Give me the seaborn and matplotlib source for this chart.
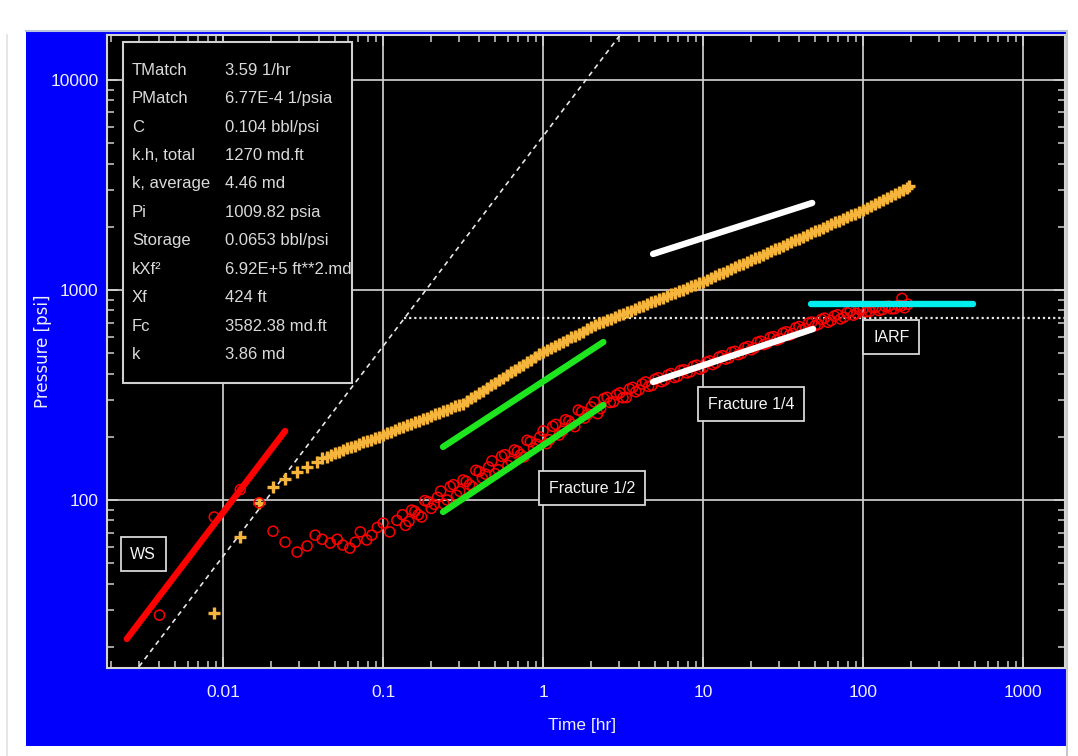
import matplotlib
matplotlib.use('Agg')
import matplotlib.pyplot as plt
import pandas as pd
import seaborn as sns
from matplotlib.patches import Rectangle
from matplotlib.lines import Line2D
from matplotlib.ticker import FixedLocator, FixedFormatter, LogLocator, NullFormatter

# ---- data ----
# pressure (orange crosses)
orange_t = [0.0088, 0.0128, 0.0168, 0.0205, 0.0244, 0.029, 0.0335, 0.0387, 0.0416,
            0.0447, 0.0501, 0.0562, 0.0631, 0.0708, 0.0794, 0.0891, 0.1,
            0.112, 0.126, 0.141, 0.158, 0.178, 0.2, 0.224, 0.251, 0.282, 0.316,
            0.355, 0.398, 0.447, 0.501, 0.562, 0.631, 0.708, 0.794, 0.891, 1.0,
            1.12, 1.26, 1.41, 1.58, 1.78, 2.0, 2.24, 2.51, 2.82, 3.16,
            3.55, 3.98, 4.47, 5.01, 5.62, 6.31, 7.08, 7.94, 8.91, 10.0,
            11.2, 12.6, 14.1, 15.8, 17.8, 20.0, 22.4, 25.1, 28.2, 31.6,
            35.5, 39.8, 44.7, 50.1, 56.2, 63.1, 70.8, 79.4, 89.1, 100,
            112, 126, 141, 158, 178, 195,
            0.0473, 0.0531, 0.0596, 0.0668, 0.075, 0.0841, 0.0944, 0.106, 0.119, 0.133,
            0.15, 0.168, 0.188, 0.211, 0.237, 0.266, 0.299, 0.335, 0.376, 0.422,
            0.473, 0.531, 0.596, 0.668, 0.75, 0.841, 0.944, 1.06, 1.19, 1.33,
            1.5, 1.68, 1.88, 2.11, 2.37, 2.66, 2.99, 3.35, 3.76, 4.22,
            4.73, 5.31, 5.96, 6.68, 7.5, 8.41, 9.44, 10.6, 11.9, 13.3,
            15.0, 16.8, 18.8, 21.1, 23.7, 26.6, 29.9, 33.5, 37.6, 42.2,
            47.3, 53.1, 59.6, 66.8, 75.0, 84.1, 94.4, 106, 119, 133,
            150, 168, 188]
orange_p = [29, 67, 97, 115, 126, 136, 144, 152, 158,
            161, 167, 173, 178, 185, 191, 197, 204,
            211, 219, 227, 234, 243, 251, 260, 269, 279, 288,
            305, 323, 342, 361, 382, 405, 428, 453, 480, 508,
            531, 556, 581, 607, 634, 664, 693, 718, 743, 771,
            798, 826, 857, 887, 918, 953, 986, 1021, 1059, 1096,
            1140, 1186, 1233, 1282, 1334, 1387, 1442, 1500, 1560, 1624,
            1689, 1756, 1826, 1901, 1977, 2056, 2138, 2223, 2312, 2404,
            2512, 2627, 2748, 2871, 3002, 3112,
            164, 170, 176, 181, 188, 194, 200, 208, 215, 223,
            230, 239, 247, 256, 264, 274, 283, 296, 314, 332,
            351, 371, 393, 416, 440, 466, 494, 519, 543, 568,
            594, 620, 649, 678, 705, 730, 757, 784, 812, 841,
            872, 902, 935, 969, 1003, 1040, 1077, 1118, 1163, 1209,
            1257, 1308, 1360, 1414, 1471, 1530, 1592, 1656, 1722, 1791,
            1863, 1939, 2016, 2097, 2180, 2267, 2357, 2457, 2569, 2687,
            2809, 2936, 3057]

# derivative (red circles)
red_t = [0.004, 0.0088, 0.0128, 0.0168, 0.0205, 0.0244, 0.029, 0.0335, 0.0376, 0.0416,
         0.0467, 0.0517, 0.056, 0.062, 0.067, 0.072, 0.079, 0.085, 0.092, 0.1, 0.11, 0.122,
         0.132, 0.145, 0.158, 0.174, 0.191, 0.209, 0.229, 0.251, 0.275, 0.302,
         0.331, 0.363, 0.398, 0.437, 0.479, 0.525, 0.575, 0.631, 0.692, 0.759,
         0.832, 0.912, 1.0, 1.10, 1.20, 1.32, 1.45, 1.58, 1.74, 1.91,
         2.09, 2.29, 2.51, 2.75, 3.02, 3.31, 3.63, 3.98, 4.37, 4.79,
         5.25, 5.75, 6.31, 6.92, 7.59, 8.32, 9.12, 10.0, 11.0, 12.0,
         13.2, 14.5, 15.8, 17.4, 19.1, 20.9, 22.9, 25.1, 27.5, 30.2,
         33.1, 36.3, 39.8, 43.7, 47.9, 52.5, 57.5, 63.1, 69.2, 75.9,
         83.2, 91.2, 100, 110, 120, 132, 145, 158, 174, 191, 175,
         0.138, 0.151, 0.166, 0.182, 0.2, 0.219, 0.240, 0.263, 0.288, 0.316,
         0.347, 0.380, 0.417, 0.457, 0.501, 0.550, 0.603, 0.661, 0.724, 0.794,
         0.871, 0.955, 1.05, 1.15, 1.26, 1.38, 1.51, 1.66, 1.82, 2.0,
         2.19, 2.40, 2.63, 2.88, 3.16, 3.47, 3.80, 4.17, 4.57, 5.01,
         5.50, 6.03, 6.61, 7.24, 7.94, 8.71, 9.55, 10.5, 11.5, 12.6,
         13.8, 15.1, 16.6, 18.2, 20.0, 21.9, 24.0, 26.3, 28.8, 31.6,
         34.7, 38.0, 41.7, 45.7, 50.1, 55.0, 60.3, 66.1, 72.4, 79.4,
         87.1, 95.5, 105, 115, 126, 138, 151, 166, 182]
red_p = [28.3, 83, 112, 97, 71, 63, 56.5, 60.4, 68, 65,
         62.4, 65, 61, 59, 63, 70.5, 64.5, 68, 74, 77.6, 70.5, 80,
         85.1, 79.1, 88.3, 83.0, 98.0, 95.3, 110.2, 100, 118.3, 109.9,
         122.7, 115.3, 136.5, 132.7, 153.5, 139.3, 164.4, 152.8, 170.6, 160.3,
         189.7, 184.5, 213.3, 193.6, 229.1, 212.8, 237.7, 223.4, 263.6, 256.4,
         293.1, 272.3, 308.3, 293.1, 323.6, 307.6, 343.6, 334.2, 364.8, 350.8,
         381.9, 371.5, 399.9, 387.3, 416.9, 407.4, 438.5, 426.6, 459.2, 449.8,
         486.4, 474.2, 510.5, 498.9, 538.3, 528.4, 570.2, 557.2, 599.8, 584.8,
         632.4, 619.4, 669.9, 654.6, 703.1, 685.5, 734.5, 714.5, 762.1, 741.3,
         790.7, 772.7, 812.8, 790.7, 826.0, 805.4, 837.5, 814.7, 841.4, 855.1, 912,
         75.7, 89.5, 85.1, 99.3, 91.2, 103.0, 95.7, 115.9, 105.2, 124.5,
         118.3, 138.4, 127.1, 143.5, 133.4, 161.4, 146.2, 173.0, 164.4, 192.3,
         176.6, 199.5, 185.4, 224.4, 203.7, 241.0, 229.1, 267.9, 245.5, 277.3,
         257.6, 304.1, 291.1, 317.0, 306.9, 338.1, 327.3, 356.5, 347.5, 375.8,
         365.6, 393.6, 382.8, 414.0, 402.7, 433.5, 419.8, 452.9, 441.6, 479.7,
         468.8, 505.8, 492.0, 530.9, 518.8, 563.6, 549.5, 594.3, 576.8, 623.7,
         609.5, 660.7, 645.7, 696.6, 676.1, 724.4, 701.5, 751.6, 727.8, 779.8,
         758.6, 805.4, 787.0, 822.2, 798.0, 833.7, 812.8, 843.3, 822.2]

# straight-line fits (end points)
unit_slope_t = [0.002, 4.0]
unit_slope_p = [10.8, 21600]
iarf_level_t = [0.136, 2000]
iarf_level_p = [735, 735]
ws_t = [0.0025, 0.0244]
ws_p = [21.8, 213]
half_upper_t = [0.237, 2.38]
half_upper_p = [179, 565]
half_lower_t = [0.237, 2.38]
half_lower_p = [87.7, 283]
quarter_upper_t = [4.87, 48.1]
quarter_upper_p = [1484, 2596]
quarter_lower_t = [4.87, 48.7]
quarter_lower_p = [365, 652]
iarf_t = [47, 487]
iarf_p = [857, 857]

x_ticks = [0.01, 0.1, 1, 10, 100, 1000]
x_tick_labels = ['0.01', '0.1', '1', '10', '100', '1000']
y_ticks = [100, 1000, 10000]
y_tick_labels = ['100', '1000', '10000']

info_names = ['TMatch', 'PMatch', 'C', 'k.h, total', 'k, average', 'Pi', 'Storage',
              'kXf\u00b2', 'Xf', 'Fc', 'k']
info_values = ['3.59 1/hr', '6.77E-4 1/psia', '0.104 bbl/psi', '1270 md.ft', '4.46 md',
               '1009.82 psia', '0.0653 bbl/psi', '6.92E+5 ft**2.md', '424 ft',
               '3582.38 md.ft', '3.86 md']

regime_labels = ['WS', 'Fracture 1/2', 'Fracture 1/4', 'IARF']
regime_t = [0.00316, 2.02, 19.95, 150]
regime_p = [55.3, 114, 286, 597]

NARROW = ['Liberation Sans', 'DejaVu Sans']

W, H = 1078, 756
fig = plt.figure(figsize=(W / 100, H / 100), dpi=100)
fig.patch.set_facecolor('white')

# blue window panel (behind the axes)
fig.patches.append(Rectangle((26 / W, 1 - 746 / H), (1066 - 26) / W, (746 - 31) / H,
                             transform=fig.transFigure, facecolor='#0000fc',
                             edgecolor='none', zorder=-5))
fig.add_artist(Line2D([26 / W, 1066 / W], [1 - 31 / H, 1 - 31 / H], color='#b8c4dc',
                      lw=1.5, zorder=-4))
fig.add_artist(Line2D([7 / W, 7 / W], [0, 1 - 35 / H], color='#e2e2e2', lw=1.2, zorder=-4))
fig.add_artist(Line2D([1067 / W, 1067 / W], [0, 1 - 31 / H], color='#c8c8c8', lw=1.5,
                      zorder=-4))

ax = fig.add_axes([107 / W, 1 - 668 / H, (1065 - 107) / W, (668 - 35) / H])
ax.set_zorder(1)
ax.set_facecolor('black')
ax.set_xscale('log')
ax.set_yscale('log')
ax.set_xlim(0.00188, 1830)
ax.set_ylim(15.85, 16370)

ax.grid(True, which='major', color='#d6d6d6', lw=1.2, zorder=1)
ax.set_axisbelow(True)

# reference lines
sns.lineplot(x=unit_slope_t, y=unit_slope_p, ax=ax, color='#e6e6e6', lw=1.2,
             linestyle=(0, (3, 2.5)), zorder=2)
sns.lineplot(x=iarf_level_t, y=iarf_level_p, ax=ax, color='#e6e6e6', lw=1.6,
             linestyle=(0, (1, 1.3)), zorder=2)

# data
pres = pd.DataFrame({'t': orange_t, 'p': orange_p})
deriv = pd.DataFrame({'t': red_t, 'p': red_p})
sns.scatterplot(data=pres, x='t', y='p', ax=ax, marker='+', color='#f5b53d',
                s=85, linewidth=2.4, zorder=3)
sns.scatterplot(data=deriv, x='t', y='p', ax=ax, marker='o', s=52, linewidth=1.1,
                zorder=3)
ax.collections[-1].set_facecolor('none')
ax.collections[-1].set_edgecolor('#ff0000')

# straight-line fits
fits = [(ws_t, ws_p, '#ff0000'), (half_upper_t, half_upper_p, '#1ee61e'),
        (half_lower_t, half_lower_p, '#1ee61e'), (quarter_upper_t, quarter_upper_p, '#ffffff'),
        (quarter_lower_t, quarter_lower_p, '#ffffff'), (iarf_t, iarf_p, '#00eeee')]
for ft, fp, col in fits:
    sns.lineplot(x=ft, y=fp, ax=ax, color=col, lw=4.6, solid_capstyle='round', zorder=4)

# ticks
ax.xaxis.set_major_locator(FixedLocator(x_ticks))
ax.xaxis.set_major_formatter(FixedFormatter(x_tick_labels))
ax.yaxis.set_major_locator(FixedLocator(y_ticks))
ax.yaxis.set_major_formatter(FixedFormatter(y_tick_labels))
for axis in (ax.xaxis, ax.yaxis):
    axis.set_minor_locator(LogLocator(base=10, subs=range(2, 10), numticks=20))
    axis.set_minor_formatter(NullFormatter())
ax.tick_params(which='both', direction='in', top=True, right=True, color='#d0d0d0',
               labelcolor='#eeeeff', labelsize=12.5, labelfontfamily=NARROW)
ax.tick_params(which='major', length=8, width=1.2)
ax.tick_params(which='minor', length=5, width=1.1)
ax.tick_params(axis='x', pad=12)
ax.tick_params(axis='y', pad=6)
for sp in ax.spines.values():
    sp.set_color('#d4d4d4')
    sp.set_linewidth(1.5)

ax.set_xlabel('Time [hr]', color='#eeeeff', fontsize=12.5, family=NARROW)
ax.xaxis.set_label_coords(0.496, -0.079)
ax.set_ylabel('Pressure [psi]', color='#eeeeff', fontsize=12, family='DejaVu Sans')
ax.yaxis.set_label_coords(-0.0574, 0.5)

# info box
ax.add_patch(Rectangle((0.0164, 0.4498), 0.239, 0.5397, transform=ax.transAxes,
                       facecolor='black', edgecolor='#d0d0d0', lw=1.5, zorder=5))
for i, (nm, val) in enumerate(zip(info_names, info_values)):
    yy = 0.9447 - i * 0.04502
    ax.text(0.0261, yy, nm, transform=ax.transAxes, color='#dadada', fontsize=12,
            family=NARROW, va='center', ha='left', zorder=6)
    ax.text(0.1232, yy, val, transform=ax.transAxes, color='#dadada', fontsize=12,
            family=NARROW, va='center', ha='left', zorder=6)

# flow regime labels
for lab, lt, lp in zip(regime_labels, regime_t, regime_p):
    ax.text(lt, lp, lab, color='#f4f4f4', fontsize=11.5, family=NARROW, ha='center',
            va='center', zorder=6,
            bbox=dict(boxstyle='square,pad=0.6', facecolor='black', edgecolor='#d8d8d8', lw=1.3))

fig.savefig('out.png', dpi=100, facecolor=fig.get_facecolor())
